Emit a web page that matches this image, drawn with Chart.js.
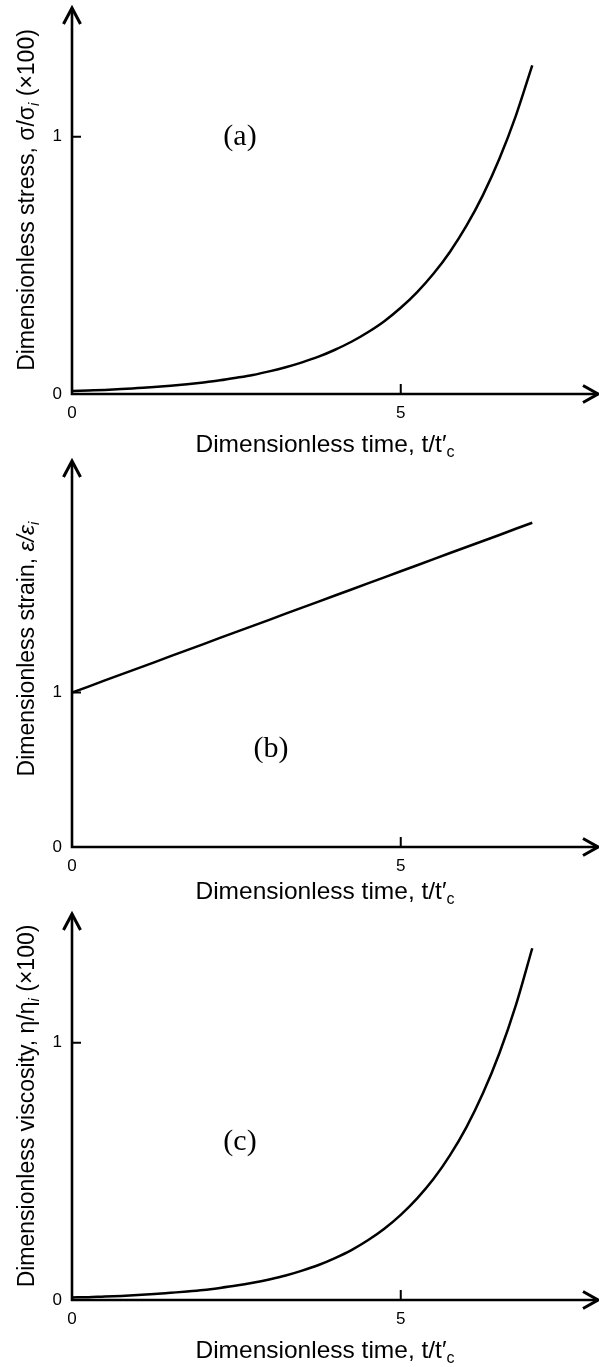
<!DOCTYPE html>
<html>
<head>
<meta charset="utf-8">
<script src="https://cdn.jsdelivr.net/npm/chart.js@4.4.1/dist/chart.umd.min.js"></script>
<style>
    html, body { margin: 0; padding: 0; background: #fff; }
    .panel { position: relative; width: 599px; height: 453px; }
    .panel.last { height: 461px; }
    .panel canvas { position: absolute; left: 0; top: 0; display: block; }
</style>
</head>
<body>
<div class="panel"><canvas id="stressChart" width="599" height="466"></canvas></div>
<div class="panel"><canvas id="strainChart" width="599" height="466"></canvas></div>
<div class="panel last"><canvas id="viscosityChart" width="599" height="461"></canvas></div>
<script>
// dimensionless time t/t'c
const timeSteps = [0, 0.25, 0.5, 0.75, 1, 1.25, 1.5, 1.75, 2, 2.25, 2.5, 2.75, 3, 3.25, 3.5,
    3.75, 4, 4.25, 4.5, 4.75, 5, 5.25, 5.5, 5.75, 6, 6.25, 6.5, 6.75, 7];
// sigma/sigma_i (x100)
const stressValues = [0.012, 0.014, 0.016, 0.019, 0.023, 0.027, 0.032, 0.038, 0.045, 0.053, 0.063, 0.074, 0.088, 0.104, 0.123,
    0.145, 0.172, 0.203, 0.240, 0.283, 0.335, 0.396, 0.468, 0.553, 0.654, 0.773, 0.914, 1.081, 1.277];
// epsilon/epsilon_i
const strainValues = [1.000, 1.039, 1.079, 1.118, 1.157, 1.196, 1.236, 1.275, 1.314, 1.354, 1.393, 1.432, 1.471, 1.511, 1.550,
    1.589, 1.629, 1.668, 1.707, 1.746, 1.786, 1.825, 1.864, 1.904, 1.943, 1.982, 2.021, 2.061, 2.100];
// eta/eta_i (x100)
const viscosityValues = [0.010, 0.011, 0.014, 0.016, 0.019, 0.023, 0.028, 0.033, 0.039, 0.047, 0.056, 0.067, 0.080, 0.095, 0.114,
    0.136, 0.163, 0.194, 0.232, 0.277, 0.331, 0.395, 0.471, 0.563, 0.672, 0.803, 0.959, 1.145, 1.367];

const timeTicks = [0, 5];
const levelTicks = [0, 1];

const SANS = '"Liberation Sans", Arial, sans-serif';
const SERIF = '"Liberation Serif", "Times New Roman", serif';

const xTitle = [
    { text: 'Dimensionless time, t/t\u2032', font: `24.5px ${SANS}` },
    { text: 'c', font: `16px ${SANS}`, shift: 5 }
];

// draws a run of differently styled text pieces centred on (x, y)
function drawRich(ctx, parts, x, y, vertical) {
    ctx.save();
    ctx.translate(x, y);
    if (vertical) ctx.rotate(-Math.PI / 2);
    ctx.fillStyle = '#000';
    ctx.textBaseline = 'alphabetic';
    ctx.textAlign = 'left';
    let total = 0;
    parts.forEach(p => { ctx.font = p.font; total += ctx.measureText(p.text).width; });
    let cx = -total / 2;
    parts.forEach(p => {
        ctx.font = p.font;
        ctx.fillText(p.text, cx, p.shift || 0);
        cx += ctx.measureText(p.text).width;
    });
    ctx.restore();
}

// axes with open arrowheads and inward tick marks
const arrowAxes = {
    id: 'arrowAxes',
    afterDraw(chart) {
        const { ctx, chartArea: a, scales: { x, y } } = chart;
        ctx.save();
        ctx.strokeStyle = '#000';
        ctx.lineWidth = 2.6;
        ctx.lineJoin = 'miter';
        ctx.beginPath();
        ctx.moveTo(a.left, a.top);
        ctx.lineTo(a.left, a.bottom);
        ctx.lineTo(a.right, a.bottom);
        ctx.stroke();

        ctx.lineWidth = 3;
        ctx.beginPath();
        ctx.moveTo(a.left - 8.5, a.top + 16);
        ctx.lineTo(a.left, a.top);
        ctx.lineTo(a.left + 8.5, a.top + 16);
        ctx.moveTo(a.right - 15, a.bottom - 8.5);
        ctx.lineTo(a.right, a.bottom);
        ctx.lineTo(a.right - 15, a.bottom + 8.5);
        ctx.stroke();

        ctx.lineWidth = 2;
        ctx.beginPath();
        y.ticks.forEach(t => {
            if (t.value === 0) return;
            const py = y.getPixelForValue(t.value);
            ctx.moveTo(a.left, py);
            ctx.lineTo(a.left + 9, py);
        });
        x.ticks.forEach(t => {
            if (t.value === 0) return;
            const px = x.getPixelForValue(t.value);
            ctx.moveTo(px, a.bottom);
            ctx.lineTo(px, a.bottom - 10);
        });
        ctx.stroke();
        ctx.restore();
    }
};

// axis titles with subscripts and the panel letter
function titlesPlugin(t) {
    return {
        id: 'richTitles',
        afterDraw(chart) {
            const { ctx } = chart;
            drawRich(ctx, t.yTitle, 34, t.yCenter, true);
            drawRich(ctx, xTitle, 325, t.xBaseline, false);
            ctx.save();
            ctx.font = `30px ${SERIF}`;
            ctx.fillStyle = '#000';
            ctx.textAlign = 'center';
            ctx.textBaseline = 'middle';
            ctx.fillText(t.letter, t.letterX, t.letterY);
            ctx.restore();
        }
    };
}

function makePanel(id, values, yMax, straight, titles) {
    const canvas = document.getElementById(id);
    new Chart(canvas, {
        type: 'line',
        data: {
            datasets: [{
                data: timeSteps.map((t, i) => ({ x: t, y: values[i] })),
                borderColor: '#000',
                borderWidth: 2.5,
                pointRadius: 0,
                fill: false,
                tension: 0,
                cubicInterpolationMode: straight ? 'default' : 'monotone'
            }]
        },
        options: {
            responsive: false,
            animation: false,
            devicePixelRatio: 1,
            layout: { padding: { left: 0, top: 8, right: 1, bottom: 0 } },
            plugins: {
                legend: { display: false },
                tooltip: { enabled: false }
            },
            scales: {
                x: {
                    type: 'linear',
                    min: 0,
                    max: 8,
                    afterBuildTicks: s => { s.ticks = timeTicks.map(v => ({ value: v })); },
                    // x axis line sits 394px down every panel
                    afterFit: s => { s.height = canvas.height - 394; s.paddingLeft = 0; s.paddingRight = 0; },
                    grid: { display: false, drawTicks: false },
                    border: { display: false },
                    ticks: { color: '#000', padding: 9, maxRotation: 0, autoSkip: false, font: { family: SANS, size: 17 } }
                },
                y: {
                    type: 'linear',
                    min: 0,
                    max: yMax,
                    afterBuildTicks: s => { s.ticks = levelTicks.map(v => ({ value: v })); },
                    afterFit: s => { s.width = 72; s.paddingTop = 0; s.paddingBottom = 0; },
                    grid: { display: false, drawTicks: false },
                    border: { display: false },
                    ticks: { color: '#000', padding: 10, autoSkip: false, font: { family: SANS, size: 17 } }
                }
            }
        },
        plugins: [arrowAxes, titlesPlugin(titles)]
    });
}

makePanel('stressChart', stressValues, 1.5, false, {
    yTitle: [
        { text: 'Dimensionless stress, \u03c3/\u03c3', font: `23px ${SANS}` },
        { text: 'i', font: `italic 15px ${SANS}`, shift: 5 },
        { text: ' (\u00d7100)', font: `23px ${SANS}` }
    ],
    yCenter: 200, xBaseline: 452, letter: '(a)', letterX: 240, letterY: 137
});

makePanel('strainChart', strainValues, 2.5, true, {
    yTitle: [
        { text: 'Dimensionless strain, ', font: `23px ${SANS}` },
        { text: '\u03b5/\u03b5', font: `italic 23px ${SANS}` },
        { text: 'i', font: `italic 15px ${SANS}`, shift: 5 }
    ],
    yCenter: 196, xBaseline: 446, letter: '(b)', letterX: 271, letterY: 296
});

makePanel('viscosityChart', viscosityValues, 1.5, false, {
    yTitle: [
        { text: 'Dimensionless viscosity, \u03b7/\u03b7', font: `23px ${SANS}` },
        { text: 'i', font: `italic 15px ${SANS}`, shift: 5 },
        { text: ' (\u00d7100)', font: `23px ${SANS}` }
    ],
    yCenter: 200, xBaseline: 452, letter: '(c)', letterX: 240, letterY: 236
});
</script>
</body>
</html>
